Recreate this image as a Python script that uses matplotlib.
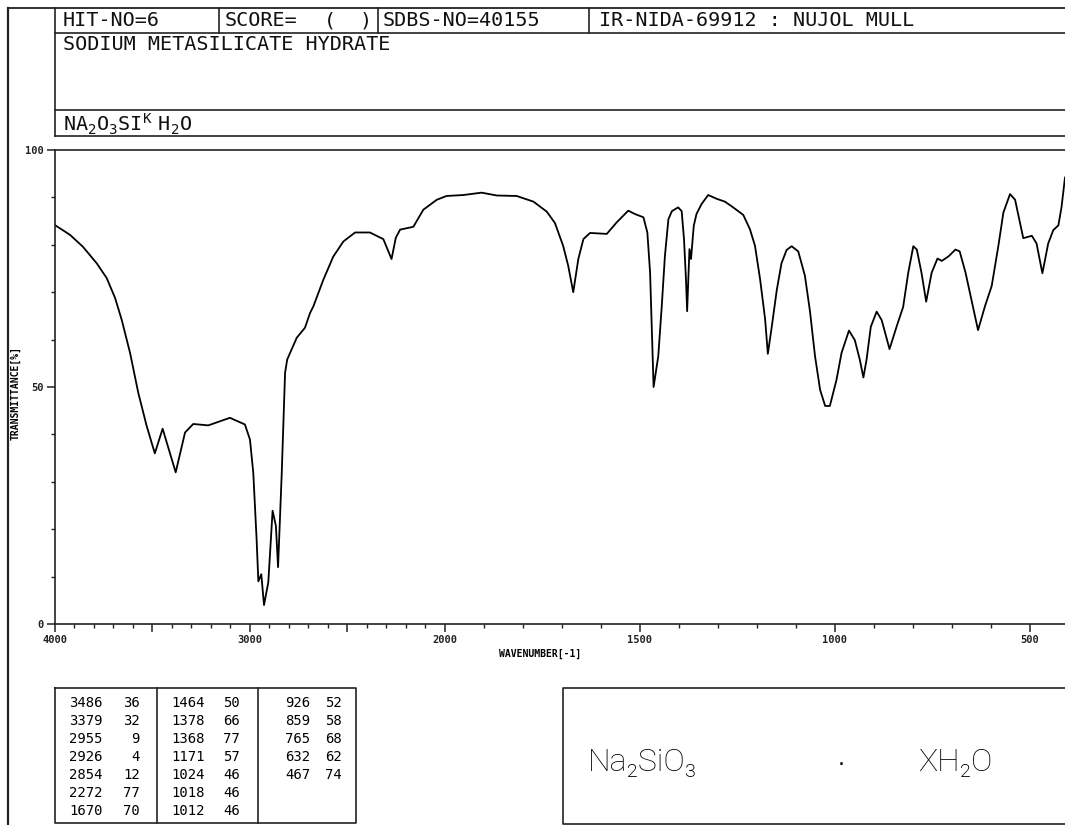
import numpy as np
import matplotlib
matplotlib.use('Agg')
import matplotlib.pyplot as plt

# IR spectrum, nujol mull: wavenumber (cm-1) and transmittance (%)
wavenumber = [4000, 3921, 3855, 3784, 3733, 3690, 3656, 3613, 3571, 3528,
              3486, 3446, 3379, 3331, 3289, 3212, 3101, 3024, 2998, 2981,
              2964, 2955, 2940, 2926, 2904, 2882, 2865, 2854, 2835, 2818,
              2807, 2758, 2716, 2690, 2673, 2622, 2571, 2519, 2459, 2383,
              2314, 2272, 2250, 2228, 2160, 2109, 2040, 1995, 1952, 1905,
              1866, 1815, 1772, 1738, 1717, 1696, 1683, 1670, 1657, 1644,
              1627, 1584, 1559, 1529, 1512, 1490, 1480, 1473, 1469, 1464,
              1452, 1443, 1435, 1426, 1417, 1401, 1392, 1386, 1381, 1378,
              1372, 1368, 1361, 1354, 1341, 1324, 1302, 1281, 1260, 1234,
              1217, 1204, 1191, 1178, 1171, 1161, 1148, 1136, 1123, 1110,
              1093, 1076, 1063, 1050, 1037, 1024, 1018, 1012, 995, 982,
              963, 948, 935, 926, 918, 907, 892, 879, 859, 841,
              824, 811, 798, 789, 777, 765, 751, 736, 725, 707,
              690, 679, 664, 651, 632, 614, 597, 580, 567, 550,
              537, 524, 516, 494, 482, 467, 452, 439, 426, 418, 409]
transmittance = [84.2, 82.1, 79.6, 76.1, 73.0, 68.8, 64.2, 57.2, 48.8, 41.8,
                 36.0, 41.2, 32.0, 40.4, 42.2, 41.9, 43.5, 42.1, 38.9, 31.9,
                 17.9, 9.0, 10.5, 4.0, 8.8, 23.9, 20.7, 12.0, 31.9, 53.0,
                 55.8, 60.4, 62.5, 65.6, 67.0, 72.6, 77.5, 80.7, 82.6, 82.6,
                 81.2, 77.0, 81.5, 83.2, 83.8, 87.4, 89.5, 90.3, 90.5, 91.0,
                 90.4, 90.3, 89.1, 87.0, 84.6, 79.8, 75.6, 70.0, 77.0, 81.2,
                 82.5, 82.3, 84.7, 87.2, 86.5, 85.8, 82.6, 74.2, 63.6, 50.0,
                 56.5, 67.1, 77.6, 85.4, 87.1, 87.9, 87.1, 81.2, 72.8, 66.0,
                 79.1, 77.0, 84.0, 86.5, 88.6, 90.5, 89.7, 89.1, 87.9, 86.3,
                 83.3, 79.8, 72.8, 64.3, 57.0, 62.7, 70.5, 76.1, 78.9, 79.7,
                 78.6, 73.5, 66.0, 56.5, 49.4, 46.0, 46.0, 46.0, 51.5, 57.2,
                 61.9, 59.9, 55.7, 52.0, 55.7, 62.7, 65.9, 64.1, 58.0, 62.7,
                 66.9, 74.1, 79.7, 79.0, 74.1, 68.0, 74.1, 77.1, 76.6, 77.6,
                 79.0, 78.6, 74.1, 69.2, 62.0, 67.1, 71.3, 79.7, 86.8, 90.7,
                 89.5, 84.5, 81.4, 81.9, 80.3, 74.0, 80.3, 83.1, 84.1, 87.9, 94.2]

# peak list
peak_wn = [3486, 3379, 2955, 2926, 2854, 2272, 1670,
           1464, 1378, 1368, 1171, 1024, 1018, 1012,
           926, 859, 765, 632, 467]
peak_t = [36, 32, 9, 4, 12, 77, 70,
          50, 66, 77, 57, 46, 46, 46,
          52, 58, 68, 62, 74]

x_major = [4000, 3500, 3000, 2500, 2000, 1500, 1000, 500]
x_major_labels = ['4000', '', '3000', '', '2000', '1500', '1000', '500']
y_major = [0, 50, 100]
y_major_labels = ['0', '50', '100']

MONO = 'DejaVu Sans Mono'
W, H = 1065, 825


# scale is doubled below 2000 cm-1
def fwd(x):
    x = np.asarray(x, dtype=float)
    return np.where(x > 2000, 2000 + (x - 2000) / 2.0, x)


def inv(x):
    x = np.asarray(x, dtype=float)
    return np.where(x > 2000, 2000 + (x - 2000) * 2.0, x)


fig = plt.figure(figsize=(W / 100, H / 100), dpi=100)

# page layer in pixel units
bg = fig.add_axes([0, 0, 1, 1])
bg.set_xlim(0, W)
bg.set_ylim(H, 0)
bg.axis('off')

lc = '#222222'
bg.plot([8, W], [8, 8], color=lc, lw=1.3)
bg.plot([8, 8], [8, H], color=lc, lw=1.6)
# header table
for yy in [33, 110, 136]:
    bg.plot([55, W], [yy, yy], color=lc, lw=1.2)
bg.plot([55, 55], [8, 136], color=lc, lw=1.2)
for xx in [219, 378, 589]:
    bg.plot([xx, xx], [8, 33], color=lc, lw=1.2)

hdr = dict(family=MONO, fontsize=14.5, va='center', ha='left', color='#111111')
bg.text(63, 21, 'HIT-NO=6', **hdr)
bg.text(225, 21, 'SCORE=', **hdr)
bg.text(324, 21, '(', **hdr)
bg.text(360, 21, ')', **hdr)
bg.text(383, 21, 'SDBS-NO=40155', **hdr)
bg.text(599, 21, 'IR-NIDA-69912 : NUJOL MULL', **hdr)
bg.text(63, 45, 'SODIUM METASILICATE HYDRATE', **hdr)
bg.text(63, 124, r'$\mathtt{NA_2O_3SI^K\ H_2O}$', fontsize=14.5, va='center',
        ha='left', color='#111111')

# peak table box
bg.plot([55, 356, 356, 55, 55], [688, 688, 823, 823, 688], color=lc, lw=1.2)
for xx in [157, 258]:
    bg.plot([xx, xx], [688, 823], color=lc, lw=1.2)
col_wn_x = [103, 205, 310]
col_t_x = [140, 240, 342]
for i, (pw, pt) in enumerate(zip(peak_wn, peak_t)):
    c, r = divmod(i, 7)
    yy = 703 + 18 * r
    bg.text(col_wn_x[c], yy, str(pw), family=MONO, fontsize=10, ha='right', va='center')
    bg.text(col_t_x[c], yy, str(pt), family=MONO, fontsize=10, ha='right', va='center')

# structure box
bg.plot([W + 5, 563, 563, W + 5], [688, 688, 824, 824], color=lc, lw=1.2)
fml = dict(family=['Roboto', 'DejaVu Sans'], fontweight='light', fontsize=23,
           ha='left', va='baseline', color='black')
bg.text(588, 771, 'Na\u2082SiO\u2083', **fml)
bg.text(838, 771, '\u00b7', family='DejaVu Sans', fontsize=16, ha='left', va='baseline')
bg.text(918, 771, 'XH\u2082O', **fml)

# spectrum
ax = fig.add_axes([54.6 / W, (H - 624) / H, (W - 54.6) / W, 474 / H])
ax.set_facecolor('none')
ax.set_xscale('function', functions=(fwd, inv))
ax.plot(wavenumber, transmittance, color='black', lw=1.3)
ax.set_xlim(4000, 409)
ax.set_ylim(0, 100)

ax.set_xticks(x_major)
ax.set_xticklabels(x_major_labels)
ax.set_xticks([w for w in range(4000, 400, -100) if w not in x_major], minor=True)
ax.set_yticks(y_major)
ax.set_yticklabels(y_major_labels)
ax.set_yticks([v for v in range(10, 100, 10) if v != 50], minor=True)

ax.tick_params(which='major', direction='out', length=6, width=1.1, pad=2,
               labelsize=7.5, colors='#222222')
ax.tick_params(which='minor', direction='out', length=3, width=1.0, colors='#222222')
for lab in ax.get_xticklabels() + ax.get_yticklabels():
    lab.set_family(MONO)
    lab.set_fontweight('bold')
ax.spines['right'].set_visible(False)
for s in ['left', 'bottom', 'top']:
    ax.spines[s].set_color('#222222')
    ax.spines[s].set_linewidth(1.2)

bg.text(540, 654, 'WAVENUMBER[-1]', family=MONO, fontsize=7, fontweight='bold',
        ha='center', va='center')
bg.text(16, 393, 'TRANSMITTANCE[%]', family=MONO, fontsize=7, fontweight='bold',
        ha='center', va='center', rotation=90)

fig.savefig('out.png', dpi=100)
